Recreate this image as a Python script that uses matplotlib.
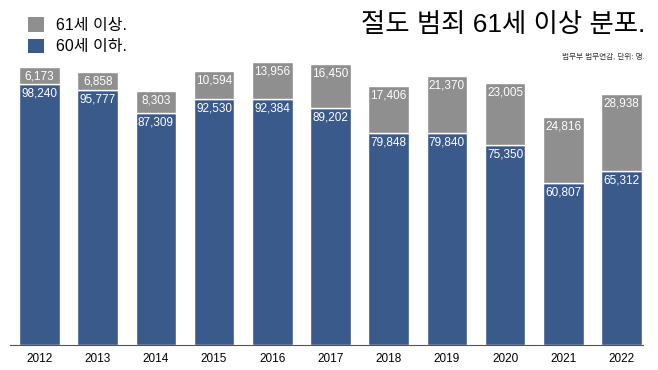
import matplotlib
matplotlib.use("Agg")
from matplotlib import pyplot as plt
from matplotlib.patches import Patch
import numpy as np

plt.rcParams['font.family'] = ['Liberation Sans', 'Noto Sans CJK KR', 'DejaVu Sans']

years = ['2012', '2013', '2014', '2015', '2016', '2017', '2018', '2019', '2020', '2021', '2022']
under60 = [98240, 95777, 87309, 92530, 92384, 89202, 79848, 79840, 75350, 60807, 65312]
over61 = [6173, 6858, 8303, 10594, 13956, 16450, 17406, 21370, 23005, 24816, 28938]

blue = '#3b5a8c'
gray = '#8f8f8f'

fig = plt.figure(figsize=(6.58, 3.70), dpi=100)
ax = fig.add_axes([10/658, 25/370, 633/658, 345/370])

x = np.arange(len(years))
b1 = ax.bar(x, under60, width=0.70, color=blue, edgecolor='white', linewidth=1)
b2 = ax.bar(x, over61, width=0.70, bottom=under60, color=gray, edgecolor='white', linewidth=1)

# value labels inside top of each segment
for i in range(len(years)):
    ax.annotate(f'{under60[i]:,}', (x[i], under60[i]), xytext=(0, -2.5), textcoords='offset points',
                ha='center', va='top', color='white', fontsize=8.5)
    ax.annotate(f'{over61[i]:,}', (x[i], under60[i] + over61[i]), xytext=(0, -2.5), textcoords='offset points',
                ha='center', va='top', color='white', fontsize=8.5)

ax.set_xlim(-0.507, 10.37)
ax.set_ylim(0, 129700)
ax.set_xticks(x)
ax.set_xticklabels(years, fontsize=8.5)
ax.tick_params(axis='x', length=0, pad=6)
ax.set_yticks([])
for s in ['top', 'right', 'left']:
    ax.spines[s].set_visible(False)
ax.spines['bottom'].set_color('#555555')
ax.spines['bottom'].set_linewidth(0.8)

fig.text(645/658, 1 - 25/370, '절도 범죄 61세 이상 분포.', ha='right', va='center', fontsize=19)
fig.text(645/658, 1 - 57/370, '법무부 법무연감, 단위: 명.', ha='right', va='center', fontsize=5.5, color='#333333')

handles = [Patch(facecolor=gray, edgecolor='none', label='61세 이상.'),
           Patch(facecolor=blue, edgecolor='none', label='60세 이하.')]
fig.legend(handles=handles, loc='upper left', bbox_to_anchor=(22/658, 1 - 11/370), frameon=False,
           fontsize=11.5, handlelength=1.0, handleheight=1.0, handletextpad=0.7, labelspacing=0.35,
           borderaxespad=0)

fig.savefig('out.png', dpi=100)
